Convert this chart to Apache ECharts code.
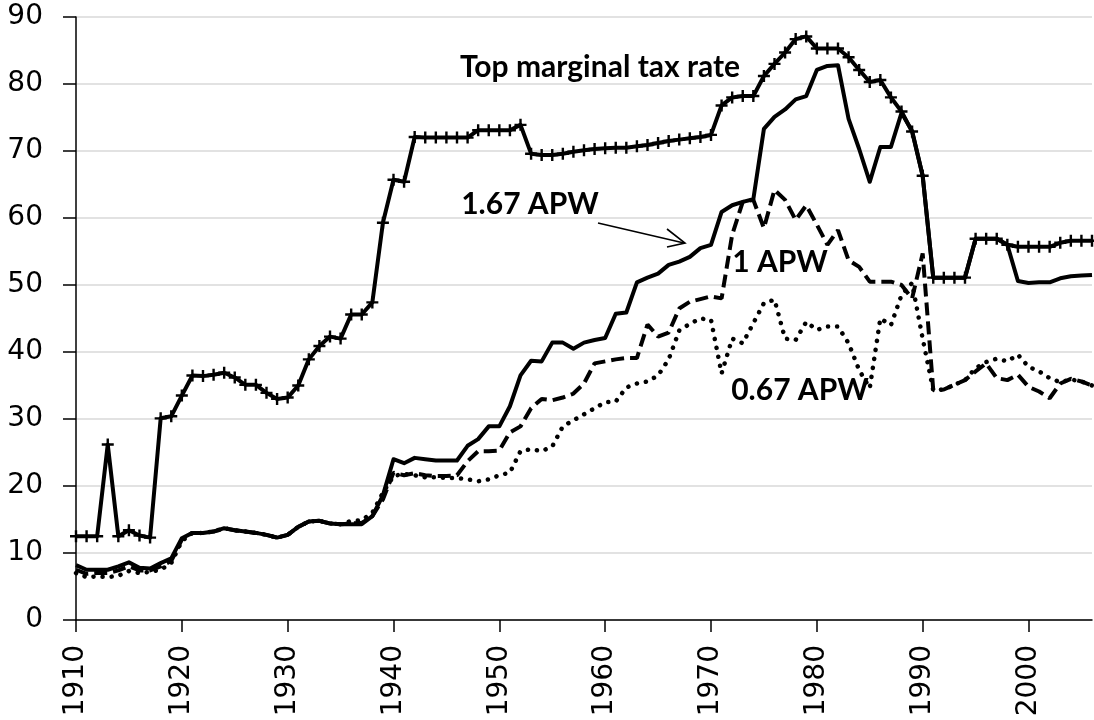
<!DOCTYPE html>
<html>
<head>
<meta charset="utf-8">
<script src="https://cdn.jsdelivr.net/npm/echarts@6/dist/echarts.min.js"></script>
<style>
  html, body { margin: 0; padding: 0; background: #fff; }
  #chart { width: 1094px; height: 720px; }
</style>
</head>
<body>
<div id="chart"></div>
<script>
// years 1910..2006
var firstYear = 1910;
var lastYear = 2006;
var yearTicks = [1910, 1920, 1930, 1940, 1950, 1960, 1970, 1980, 1990, 2000];

// top marginal tax rate (%)
var topRate = [
    12.5, 12.5, 12.5, 26.2, 12.5, 13.4, 12.6, 12.3, 30.1, 30.4,
    33.5, 36.5, 36.4, 36.6, 36.9, 36.2, 35.1, 35.1, 33.9, 33.0,
    33.2, 35.0, 38.9, 40.9, 42.3, 42.0, 45.6, 45.6, 47.4, 59.3,
    65.7, 65.4, 72.1, 72.0, 72.0, 72.0, 72.0, 72.0, 73.1, 73.1,
    73.1, 73.1, 73.9, 69.6, 69.4, 69.4, 69.6, 69.9, 70.1, 70.3,
    70.4, 70.5, 70.5, 70.7, 70.9, 71.2, 71.5, 71.7, 71.9, 72.1,
    72.4, 76.8, 78.0, 78.2, 78.2, 81.2, 83.0, 84.7, 86.7, 87.1,
    85.3, 85.3, 85.3, 84.0, 82.1, 80.3, 80.6, 78.0, 75.9, 72.9,
    66.3, 51.1, 51.1, 51.1, 51.1, 56.9, 56.9, 56.9, 56.0, 55.7,
    55.7, 55.7, 55.7, 56.3, 56.6, 56.6, 56.6
];

// average tax rate at 1.67 APW
var apw167 = [
    8.2, 7.5, 7.5, 7.5, 8.0, 8.6, 7.8, 7.7, 8.5, 9.2,
    12.2, 13.0, 13.0, 13.2, 13.7, 13.4, 13.2, 13.0, 12.7, 12.3,
    12.7, 13.9, 14.7, 14.8, 14.4, 14.3, 14.3, 14.3, 15.5, 18.6,
    24.0, 23.4, 24.2, 24.0, 23.8, 23.8, 23.8, 26.0, 27.0, 28.9,
    28.9, 31.9, 36.5, 38.7, 38.6, 41.4, 41.4, 40.5, 41.4, 41.8,
    42.1, 45.7, 45.9, 50.4, 51.1, 51.7, 53.0, 53.5, 54.2, 55.5,
    56.0, 60.9, 61.9, 62.4, 62.8, 73.3, 75.1, 76.2, 77.7, 78.2,
    82.1, 82.7, 82.8, 74.8, 70.3, 65.4, 70.6, 70.6, 75.7, 73.0,
    66.3, 51.1, 51.1, 51.1, 51.1, 56.9, 56.9, 56.9, 56.0, 50.6,
    50.3, 50.4, 50.4, 51.0, 51.3, 51.4, 51.5
];

// average tax rate at 1 APW
var apw1 = [
    7.5, 6.9, 7.0, 7.0, 7.4, 8.0, 7.4, 7.4, 8.0, 8.8,
    12.0, 13.0, 13.0, 13.2, 13.7, 13.4, 13.2, 13.0, 12.7, 12.3,
    12.7, 13.9, 14.7, 14.8, 14.4, 14.3, 14.4, 14.5, 15.5, 18.0,
    22.0, 21.6, 21.9, 21.6, 21.5, 21.5, 21.6, 23.7, 25.2, 25.2,
    25.3, 28.0, 28.9, 31.6, 33.0, 32.8, 33.2, 33.8, 35.3, 38.3,
    38.6, 38.9, 39.1, 39.1, 44.1, 42.3, 42.9, 46.5, 47.5, 47.9,
    48.3, 48.0, 57.5, 62.4, 62.7, 58.5, 64.2, 62.7, 59.7, 61.9,
    59.0, 56.0, 58.2, 53.7, 52.7, 50.5, 50.5, 50.5, 50.0, 48.0,
    54.7, 34.3, 34.4, 35.1, 35.8, 37.1, 38.3, 36.1, 35.8, 36.6,
    34.8, 34.1, 33.1, 35.3, 36.0, 35.6, 35.0
];

// average tax rate at 0.67 APW
var apw067 = [
    7.0, 6.4, 6.5, 6.4, 6.6, 7.3, 7.0, 7.2, 7.5, 8.5,
    11.8, 13.0, 13.0, 13.2, 13.7, 13.4, 13.2, 13.0, 12.7, 12.3,
    12.7, 13.9, 14.7, 14.8, 14.4, 14.3, 14.8, 14.9, 16.0, 19.0,
    21.5, 21.8, 21.6, 21.3, 21.3, 21.2, 21.2, 21.0, 20.7, 21.0,
    21.6, 22.0, 25.2, 25.5, 25.2, 25.9, 28.9, 29.8, 30.7, 31.6,
    32.5, 32.6, 34.7, 35.3, 35.6, 36.5, 38.9, 43.2, 44.2, 45.0,
    44.8, 36.8, 42.0, 41.3, 44.3, 47.3, 47.8, 42.0, 41.8, 44.5,
    43.3, 43.8, 43.8, 41.3, 37.3, 34.6, 45.0, 44.0, 48.5, 50.3,
    42.0, 34.3, 34.4, 35.1, 35.8, 37.6, 38.5, 39.0, 38.6, 39.6,
    37.8, 37.1, 36.1, 35.5, 35.9, 35.6, 35.0
];

function pairs(values) {
    var out = [];
    for (var i = 0; i < values.length; i++) {
        out.push([firstYear + i, values[i]]);
    }
    return out;
}

var plusSymbol = 'path://M4.8,0 H7.2 V4.8 H12 V7.2 H7.2 V12 H4.8 V7.2 H0 V4.8 H4.8 Z';
var tickFont = 'DejaVu Sans';
var noteFont = 'bold 30px Lato';

var myChart = echarts.init(document.getElementById('chart'));
var option = {
    animation: false,
    backgroundColor: '#fff',
    grid: {
        left: 76,
        right: 2,
        top: 17,
        bottom: 100,
        outerBoundsMode: 'none'
    },
    xAxis: {
        type: 'value',
        min: firstYear,
        max: lastYear,
        interval: 10,
        axisLine: {show: true, onZero: false, lineStyle: {color: '#000', width: 1.5}},
        axisTick: {show: true, length: 12, customValues: yearTicks, lineStyle: {color: '#000', width: 1.5}},
        axisLabel: {
            customValues: yearTicks,
            formatter: function (v) { return String(v); },
            rotate: 90,
            margin: 25,
            color: '#000',
            fontSize: 28,
            fontFamily: tickFont
        },
        splitLine: {show: false}
    },
    yAxis: {
        type: 'value',
        min: 0,
        max: 90,
        interval: 10,
        axisLine: {show: true, lineStyle: {color: '#000', width: 1.5}},
        axisTick: {show: true, length: 13, lineStyle: {color: '#000', width: 1.5}},
        axisLabel: {
            margin: 33,
            color: '#000',
            fontSize: 28,
            fontFamily: tickFont
        },
        splitLine: {lineStyle: {color: '#d9d9d9', width: 1.5}}
    },
    series: [
        {
            name: '0.67 APW',
            type: 'line',
            data: pairs(apw067),
            showSymbol: false,
            lineStyle: {color: '#000', width: 4.5, type: [0.1, 9], cap: 'round'}
        },
        {
            name: '1 APW',
            type: 'line',
            data: pairs(apw1),
            showSymbol: false,
            lineStyle: {color: '#000', width: 4, type: [13, 6]}
        },
        {
            name: '1.67 APW',
            type: 'line',
            data: pairs(apw167),
            showSymbol: false,
            lineStyle: {color: '#000', width: 4, join: 'round'}
        },
        {
            name: 'Top marginal tax rate',
            type: 'line',
            data: pairs(topRate),
            symbol: plusSymbol,
            symbolSize: 12,
            itemStyle: {color: '#000'},
            lineStyle: {color: '#000', width: 4, join: 'round'}
        }
    ],
    graphic: [
        {type: 'text', x: 600, y: 67, style: {text: 'Top marginal tax rate', font: noteFont, fill: '#000', align: 'center', verticalAlign: 'middle'}},
        {type: 'text', x: 530, y: 204, style: {text: '1.67 APW', font: noteFont, fill: '#000', align: 'center', verticalAlign: 'middle'}},
        {type: 'text', x: 780, y: 262, style: {text: '1 APW', font: noteFont, fill: '#000', align: 'center', verticalAlign: 'middle'}},
        {type: 'text', x: 800, y: 390, style: {text: '0.67 APW', font: noteFont, fill: '#000', align: 'center', verticalAlign: 'middle'}},
        // arrow 1.67 APW
        {type: 'line', shape: {x1: 598, y1: 223, x2: 684, y2: 243}, style: {stroke: '#000', lineWidth: 1.6}},
        {type: 'polyline', shape: {points: [[667, 229], [685, 243], [667, 247]]}, style: {stroke: '#000', lineWidth: 1.6, fill: null}}
    ]
};
myChart.setOption(option);
</script>
</body>
</html>
